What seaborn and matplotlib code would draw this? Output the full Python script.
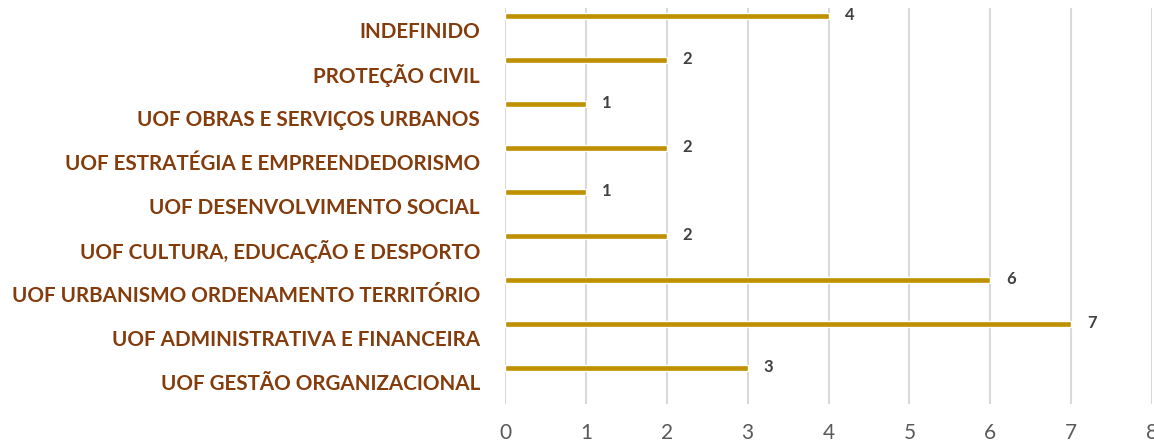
import matplotlib
matplotlib.use("Agg")
import matplotlib.pyplot as plt
import seaborn as sns
import pandas as pd
import numpy as np

categories = [
    "INDEFINIDO",
    "PROTEÇÃO CIVIL",
    "UOF OBRAS E SERVIÇOS URBANOS",
    "UOF ESTRATÉGIA E EMPREENDEDORISMO",
    "UOF DESENVOLVIMENTO SOCIAL",
    "UOF CULTURA, EDUCAÇÃO E DESPORTO",
    "UOF URBANISMO ORDENAMENTO TERRITÓRIO",
    "UOF ADMINISTRATIVA E FINANCEIRA",
    "UOF GESTÃO ORGANIZACIONAL",
]
values = [4, 2, 1, 2, 1, 2, 6, 7, 3]
x_ticks = [0, 1, 2, 3, 4, 5, 6, 7, 8]

df = pd.DataFrame({"categoria": categories, "valor": values})

sns.set_style("white")
plt.rcParams["font.family"] = ["Lato", "DejaVu Sans"]

fig = plt.figure(figsize=(11.54, 4.43), dpi=100)
ax = fig.add_axes([0.4376, 0.088, 0.5607, 0.894])

sns.barplot(data=df, x="valor", y="categoria", orient="h", color="#BF9000",
            width=0.14, saturation=1, ax=ax)

# rótulos de valor à direita de cada barra
for i, v in enumerate(values):
    ax.annotate(str(v), (v, i), xytext=(15, 0.5), textcoords="offset points",
                ha="center", va="center", fontsize=12, fontweight="bold",
                color="#404040")

ax.set_xlim(0, 8)
ax.set_ylim(8.82, -0.18)
ax.set_xticks(x_ticks)
# no Excel as barras ficam acima do centro da categoria
ax.set_yticks(np.arange(len(categories)) + 0.32, labels=categories)
ax.xaxis.grid(True, color="#D9D9D9", linewidth=1.5)
ax.set_axisbelow(True)
for s in ax.spines.values():
    s.set_visible(False)
ax.set_xlabel("")
ax.set_ylabel("")
ax.tick_params(axis="x", length=0, pad=14, labelsize=15, labelcolor="#595959")
ax.tick_params(axis="y", length=0, pad=18, labelsize=14.9, labelcolor="#843C0C")
for t in ax.get_yticklabels():
    t.set_fontweight("bold")

fig.savefig("out.png", dpi=100)
